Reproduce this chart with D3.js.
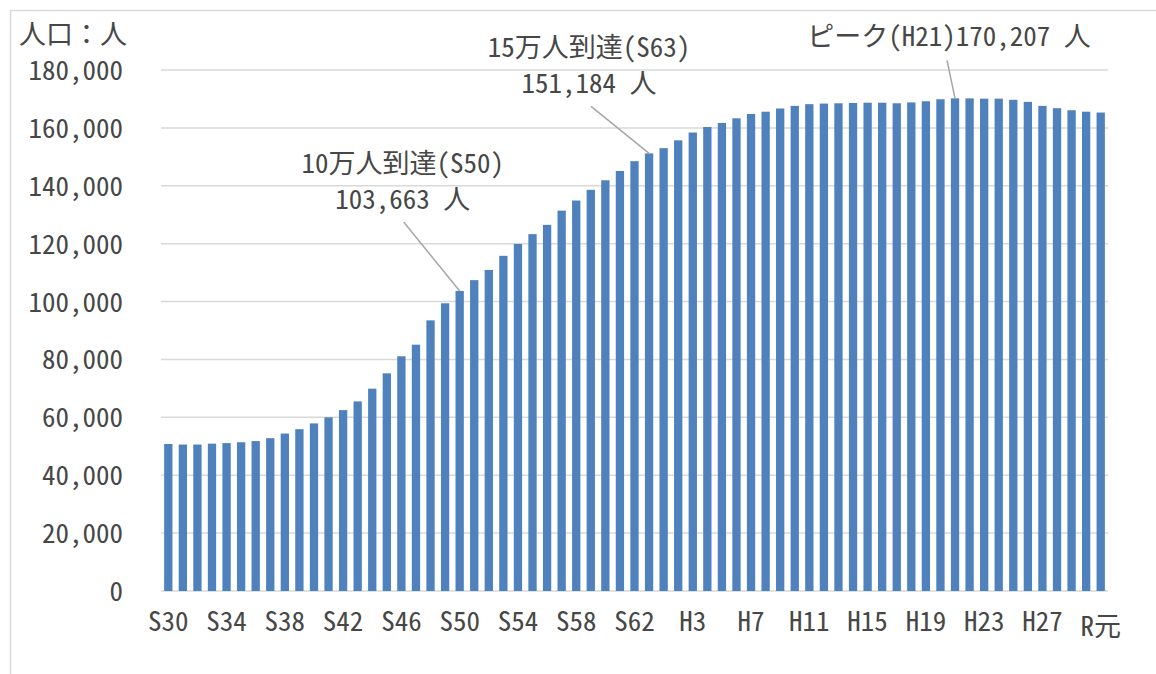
<!DOCTYPE html>
<html>
<head>
<meta charset="utf-8">
<script src="https://cdn.jsdelivr.net/npm/d3@7/dist/d3.min.js"></script>
<style>
  body { margin: 0; background: #fff; }
  svg text {
    font-family: "Noto Sans Mono CJK JP", "Noto Sans CJK JP", sans-serif;
    font-feature-settings: "hwid" 1;
    font-weight: 300;
    fill: #474747;
  }
  svg text.unit { font-feature-settings: normal; }
</style>
</head>
<body>
<div id="chart-area"></div>
<script>
// years (Showa 30 .. Reiwa 1)
const categories = [
  "S30","S31","S32","S33","S34","S35","S36","S37","S38","S39",
  "S40","S41","S42","S43","S44","S45","S46","S47","S48","S49",
  "S50","S51","S52","S53","S54","S55","S56","S57","S58","S59",
  "S60","S61","S62","S63",
  "H1","H2","H3","H4","H5","H6","H7","H8","H9","H10",
  "H11","H12","H13","H14","H15","H16","H17","H18","H19","H20",
  "H21","H22","H23","H24","H25","H26","H27","H28","H29","H30",
  "R元"
];

// population (people)
const population = [
  50800, 50600, 50600, 50900, 51100, 51400, 51800, 52800, 54400, 55900,
  57900, 60000, 62500, 65500, 69900, 75200, 81100, 85100, 93500, 99400,
  103663, 107400, 110900, 115800, 119900, 123300, 126500, 131400, 134900, 138600,
  141900, 145100, 148500, 151184,
  153000, 155700, 158400, 160300, 161700, 163300, 164800, 165600, 166700, 167600,
  168200, 168400, 168500, 168600, 168700, 168700, 168500, 168800, 169200, 169900,
  170207, 170200, 170100, 170100, 169700, 169000, 167600, 166800, 166100, 165600,
  165300
];

const xTickLabels = ["S30","S34","S38","S42","S46","S50","S54","S58","S62",
  "H3","H7","H11","H15","H19","H23","H27","R元"];
const yTickValues = [0, 20000, 40000, 60000, 80000, 100000, 120000, 140000, 160000, 180000];

// callouts: category, text lines
const noteCats = ["S50", "S63", "H21"];
const noteLines = [
  ["10万人到達(S50)", "103,663 人"],
  ["15万人到達(S63)", "151,184 人"],
  ["ピーク(H21)170,207 人"]
];
// placement relative to the bar top: text dx, first baseline dy, line start dx/dy
const notePlace = [
  {dx: -57, dy: -118, lx: -56, ly: -69},
  {dx: -60, dy: -96, lx: -58, ly: -47},
  {dx: -6, dy: -52, lx: -8, ly: -38}
];

const data = categories.map((c, i) => ({cat: c, value: population[i]}));

const W = 1156, H = 674;
const plot = {left: 161, right: 1108, top: 70, bottom: 591};

let svg = d3.select("#chart-area")
  .append("svg")
    .attr("width", W)
    .attr("height", H);

// chart area border
svg.append("rect")
  .attr("x", 10.5)
  .attr("y", 10.5)
  .attr("width", 1200)
  .attr("height", 700)
  .attr("fill", "none")
  .attr("stroke", "#d9d9d9")
  .attr("stroke-width", 1.5);

let x = d3.scaleBand()
  .domain(categories)
  .range([plot.left, plot.right])
  .paddingInner(0.43)
  .paddingOuter(0.215);

let y = d3.scaleLinear()
  .domain([0, 180000])
  .range([plot.bottom, plot.top]);

// grid lines
svg.append("g")
  .selectAll("line")
  .data(yTickValues)
  .join("line")
    .attr("x1", plot.left)
    .attr("x2", plot.right)
    .attr("y1", d => y(d))
    .attr("y2", d => y(d))
    .attr("stroke", "#d9d9d9")
    .attr("stroke-width", 1.5);

// Y axis
let yAxis = d3.axisLeft(y)
  .tickValues(yTickValues)
  .tickSize(0)
  .tickPadding(38)
  .tickFormat(d3.format(","));
let yg = svg.append("g")
  .attr("transform", "translate(" + plot.left + ",0)")
  .call(yAxis);
yg.select(".domain").remove();
yg.selectAll("text")
  .attr("font-size", 27)
  .attr("dy", "0.35em");

// X axis
let xAxis = d3.axisBottom(x)
  .tickValues(xTickLabels)
  .tickSize(0)
  .tickPadding(21);
let xg = svg.append("g")
  .attr("transform", "translate(0," + plot.bottom + ")")
  .call(xAxis);
xg.select(".domain").remove();
xg.selectAll("text")
  .attr("font-size", 27)
  .attr("dy", d => /[^\x00-\x7f]/.test(d) ? "0.9em" : "0.71em");
// axis() sets its own font; drop it so the css font applies
yg.attr("font-family", null);
xg.attr("font-family", null);

// bars
svg.append("g")
  .selectAll("rect")
  .data(data)
  .join("rect")
    .attr("x", d => x(d.cat))
    .attr("y", d => y(d.value))
    .attr("width", x.bandwidth())
    .attr("height", d => y(0) - y(d.value))
    .attr("fill", "#4f81bd");

// unit label
svg.append("text")
  .attr("class", "unit")
  .attr("x", 19)
  .attr("y", 44)
  .attr("font-size", 27)
  .text("人口：人");

// callouts
noteCats.forEach((c, i) => {
  let bx = x(c) + x.bandwidth() / 2;
  let by = y(population[categories.indexOf(c)]);
  let p = notePlace[i];
  svg.append("line")
    .attr("x1", bx + p.lx)
    .attr("y1", by + p.ly)
    .attr("x2", bx)
    .attr("y2", by)
    .attr("stroke", "#a6a6a6")
    .attr("stroke-width", 1.5);
  let t = svg.append("text")
    .attr("text-anchor", "middle")
    .attr("font-size", 27);
  noteLines[i].forEach((line, j) => {
    t.append("tspan")
      .attr("x", bx + p.dx)
      .attr("y", by + p.dy + j * 36)
      .text(line);
  });
});
</script>
</body>
</html>
